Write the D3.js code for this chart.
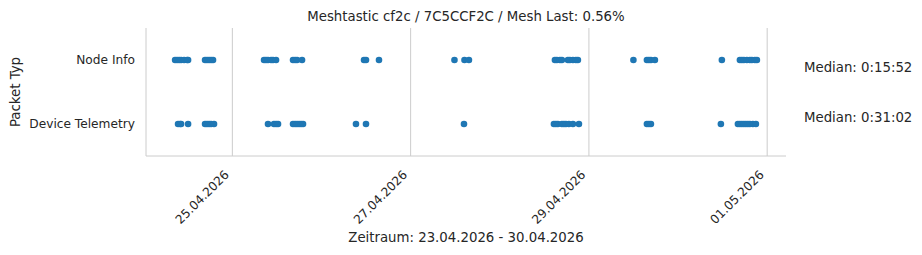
<!DOCTYPE html>
<html>
<head>
<meta charset="utf-8">
<script src="https://cdn.jsdelivr.net/npm/d3@7"></script>
<style>
	body { margin: 0; background: #fff; }
	text { font-family: "DejaVu Sans", sans-serif; fill: #262626; }
</style>
</head>
<body>
<div id="chart"></div>
<script>
// DATA
const title = "Meshtastic cf2c / 7C5CCF2C / Mesh Last: 0.56%";
const xLabel = "Zeitraum: 23.04.2026 - 30.04.2026";
const yLabel = "Packet Typ";
const categories = ["Node Info", "Device Telemetry"];
const medians = ["Median: 0:15:52", "Median: 0:31:02"];
const tickDates = ["2026-04-25", "2026-04-27", "2026-04-29", "2026-05-01"];

const nodeInfoTimes = [
	"2026-04-24 08:35", "2026-04-24 09:07", "2026-04-24 09:40", "2026-04-24 10:12",
	"2026-04-24 11:00", "2026-04-24 11:49", "2026-04-24 12:05",
	"2026-04-24 16:39", "2026-04-24 17:11", "2026-04-24 17:44", "2026-04-24 18:16", "2026-04-24 18:48",
	"2026-04-25 08:32", "2026-04-25 09:04", "2026-04-25 09:36", "2026-04-25 10:25",
	"2026-04-25 10:57", "2026-04-25 11:46",
	"2026-04-25 16:20", "2026-04-25 16:53", "2026-04-25 17:25", "2026-04-25 18:46",
	"2026-04-26 11:27", "2026-04-26 11:59", "2026-04-26 15:29",
	"2026-04-27 11:48", "2026-04-27 14:30", "2026-04-27 15:42",
	"2026-04-28 14:51", "2026-04-28 15:23", "2026-04-28 16:12", "2026-04-28 16:44",
	"2026-04-28 18:21", "2026-04-28 18:53", "2026-04-28 19:42", "2026-04-28 20:30", "2026-04-28 21:02",
	"2026-04-29 11:59", "2026-04-29 15:37", "2026-04-29 16:10", "2026-04-29 16:42", "2026-04-29 17:46",
	"2026-04-30 11:48", "2026-04-30 16:39", "2026-04-30 17:11", "2026-04-30 17:44",
	"2026-04-30 18:32", "2026-04-30 19:20", "2026-04-30 19:53", "2026-04-30 20:41", "2026-04-30 21:14"
];

const telemetryTimes = [
	"2026-04-24 09:23", "2026-04-24 09:55", "2026-04-24 10:12", "2026-04-24 12:05",
	"2026-04-24 16:39", "2026-04-24 17:11", "2026-04-24 17:44", "2026-04-24 18:16", "2026-04-24 19:04",
	"2026-04-25 09:36", "2026-04-25 11:13", "2026-04-25 11:46", "2026-04-25 12:18",
	"2026-04-25 16:20", "2026-04-25 16:53", "2026-04-25 17:25", "2026-04-25 17:58",
	"2026-04-25 18:30", "2026-04-25 19:02",
	"2026-04-26 09:17", "2026-04-26 11:59",
	"2026-04-27 14:22",
	"2026-04-28 14:35", "2026-04-28 15:07", "2026-04-28 15:39", "2026-04-28 16:44",
	"2026-04-28 17:17", "2026-04-28 17:49", "2026-04-28 18:37", "2026-04-28 19:42", "2026-04-28 21:19",
	"2026-04-29 15:37", "2026-04-29 16:10", "2026-04-29 16:42",
	"2026-04-30 11:32", "2026-04-30 16:07", "2026-04-30 16:39", "2026-04-30 17:11", "2026-04-30 17:44",
	"2026-04-30 18:16", "2026-04-30 18:48", "2026-04-30 19:20", "2026-04-30 20:09", "2026-04-30 20:58"
];


// SVG
const width = 922;
const height = 255;
const margin = { top: 28, right: 136, bottom: 99, left: 146 };
const innerW = width - margin.left - margin.right;
const innerH = height - margin.top - margin.bottom;

const svg = d3.select("#chart")
	.append("svg")
	.attr("width", width)
	.attr("height", height);

const parseTime = d3.timeParse("%Y-%m-%d %H:%M");
const parseDay = d3.timeParse("%Y-%m-%d");
const fmtDay = d3.timeFormat("%d.%m.%Y");

const points = [];
nodeInfoTimes.forEach(t => points.push({ cat: categories[0], t: parseTime(t) }));
telemetryTimes.forEach(t => points.push({ cat: categories[1], t: parseTime(t) }));

// x domain: data extent plus 5% margin on each side
const ext = d3.extent(points, d => d.t);
const pad = (ext[1] - ext[0]) * 0.05;
const x = d3.scaleTime()
	.domain([new Date(+ext[0] - pad), new Date(+ext[1] + pad)])
	.range([0, innerW]);

const y = d3.scalePoint()
	.domain(categories)
	.range([0, innerH])
	.padding(0.5);

const g = svg.append("g")
	.attr("transform", `translate(${margin.left},${margin.top})`);

// grid
const ticks = tickDates.map(parseDay);
g.append("g")
	.selectAll("line")
	.data(ticks)
	.enter()
	.append("line")
		.attr("x1", d => x(d))
		.attr("x2", d => x(d))
		.attr("y1", 0)
		.attr("y2", innerH)
		.attr("stroke", "#cccccc")
		.attr("stroke-width", 1);

// spines
g.append("line")
	.attr("x1", 0).attr("x2", 0)
	.attr("y1", 0).attr("y2", innerH)
	.attr("stroke", "#cccccc");
g.append("line")
	.attr("x1", 0).attr("x2", innerW)
	.attr("y1", innerH).attr("y2", innerH)
	.attr("stroke", "#cccccc");

// points
g.append("g")
	.selectAll("circle")
	.data(points)
	.enter()
	.append("circle")
		.attr("cx", d => x(d.t))
		.attr("cy", d => y(d.cat))
		.attr("r", 3.3)
		.attr("fill", "#1f77b4");

// x tick labels (rotated)
g.append("g")
	.selectAll("text")
	.data(ticks)
	.enter()
	.append("text")
		.attr("transform", d => `translate(${x(d) - 8.6},${innerH + 13.4}) rotate(-45)`)
		.attr("text-anchor", "end")
		.attr("dy", "0.7em")
		.attr("font-size", 12.2)
		.text(d => fmtDay(d));

// y tick labels
g.append("g")
	.selectAll("text")
	.data(categories)
	.enter()
	.append("text")
		.attr("x", -11)
		.attr("y", d => y(d))
		.attr("dy", "0.35em")
		.attr("text-anchor", "end")
		.attr("font-size", 12.2)
		.text(d => d);

// medians
svg.append("g")
	.selectAll("text")
	.data(medians)
	.enter()
	.append("text")
		.attr("x", 804)
		.attr("y", (d, i) => [67, 117][i])
		.attr("dy", "0.35em")
		.attr("font-size", 13.3)
		.text(d => d);

// title and axis labels
svg.append("text")
	.attr("x", margin.left + innerW / 2)
	.attr("y", 21)
	.attr("text-anchor", "middle")
	.attr("font-size", 13.3)
	.text(title);

svg.append("text")
	.attr("x", margin.left + innerW / 2)
	.attr("y", 242)
	.attr("text-anchor", "middle")
	.attr("font-size", 13.3)
	.text(xLabel);

svg.append("text")
	.attr("transform", `translate(20,${margin.top + innerH / 2}) rotate(-90)`)
	.attr("text-anchor", "middle")
	.attr("font-size", 13.3)
	.text(yLabel);
</script>
</body>
</html>
